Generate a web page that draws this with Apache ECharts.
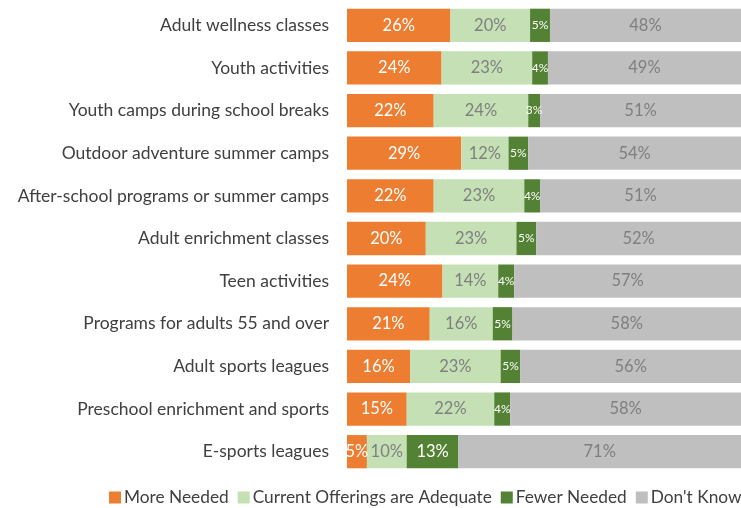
<!DOCTYPE html>
<html>
<head>
<meta charset="utf-8">
<script src="https://cdn.jsdelivr.net/npm/echarts@6/dist/echarts.min.js"></script>
<style>
html, body { margin: 0; padding: 0; background: #fff; }
#chartDIV { width: 741px; height: 508px; }
</style>
</head>
<body>
<div id="chartDIV"></div>
<script>
var categories = [
    'Adult wellness classes',
    'Youth activities',
    'Youth camps during school breaks',
    'Outdoor adventure summer camps',
    'After-school programs or summer camps',
    'Adult enrichment classes',
    'Teen activities',
    'Programs for adults 55 and over',
    'Adult sports leagues',
    'Preschool enrichment and sports',
    'E-sports leagues'
];
var moreNeeded = [26, 24, 22, 29, 22, 20, 24, 21, 16, 15, 5];
var adequate = [20, 23, 24, 12, 23, 23, 14, 16, 23, 22, 10];
var fewerNeeded = [5, 4, 3, 5, 4, 5, 4, 5, 5, 4, 13];
var dontKnow = [48, 49, 51, 54, 51, 52, 57, 58, 56, 58, 71];

var font = 'Lato';
var myChart = echarts.init(document.getElementById('chartDIV'));

// every row is drawn as a share of its own total (100% stacked)
var totals = categories.map(function (c, i) {
    return moreNeeded[i] + adequate[i] + fewerNeeded[i] + dontKnow[i];
});

function rows(values, smallFont) {
    return values.map(function (v, i) {
        var item = { value: v / totals[i] * 100, raw: v };
        if (smallFont && v < 10) {
            item.label = { fontSize: 12 };
        }
        return item;
    });
}

function makeSeries(name, values, color, labelColor, smallFont) {
    return {
        name: name,
        type: 'bar',
        stack: 'all',
        barCategoryGap: '22%',
        data: rows(values, smallFont),
        itemStyle: { color: color },
        label: {
            show: true,
            position: 'inside',
            color: labelColor,
            fontFamily: font,
            fontSize: 16.5,
            formatter: function (p) { return p.data.raw + '%'; }
        }
    };
}

var option = {
    animation: false,
    textStyle: { fontFamily: font },
    grid: { left: 347, right: 0, top: 4, bottom: 35 },
    legend: {
        bottom: -3,
        left: 104,
        width: 700,
        itemWidth: 12,
        itemHeight: 12,
        itemGap: 9,
        icon: 'rect',
        textStyle: { fontFamily: font, fontSize: 17.3, color: '#404040', padding: [0, 0, 0, -2] },
        data: ['More Needed', 'Current Offerings are Adequate', 'Fewer Needed', "Don't Know"]
    },
    xAxis: {
        type: 'value',
        min: 0,
        max: 100,
        show: false
    },
    yAxis: {
        type: 'category',
        inverse: true,
        data: categories,
        axisLine: { show: false },
        axisTick: { show: false },
        axisLabel: { color: '#404040', fontSize: 17.5, fontFamily: font, margin: 18 }
    },
    series: [
        makeSeries('More Needed', moreNeeded, '#ED7D31', '#ffffff', false),
        makeSeries('Current Offerings are Adequate', adequate, '#C5E0B4', '#7f7f7f', false),
        makeSeries('Fewer Needed', fewerNeeded, '#548235', '#ffffff', true),
        makeSeries("Don't Know", dontKnow, '#BFBFBF', '#7f7f7f', false)
    ]
};

myChart.setOption(option);
</script>
</body>
</html>
